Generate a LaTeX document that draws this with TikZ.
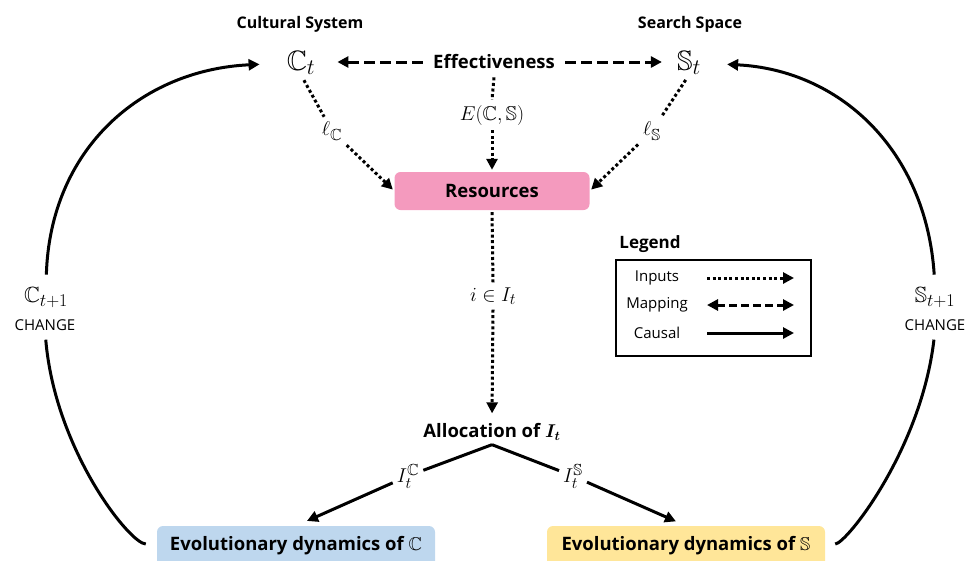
\RequirePackage{fix-cm}
\documentclass[tikz,border=0pt]{standalone}
\usepackage{amsmath,amssymb}
\usepackage{fontspec}
\setmainfont{Open Sans}
\usetikzlibrary{arrows.meta}
\DeclareMathSizes{20}{20}{16}{12}
\DeclareMathSizes{28}{28}{22}{16}
\DeclareMathSizes{22}{22}{18}{14}
\definecolor{respink}{RGB}{244,154,190}
\definecolor{evoblue}{RGB}{190,215,238}
\definecolor{evoyellow}{RGB}{255,230,153}
\begin{document}
\begin{tikzpicture}[x=1pt,y=-1pt,
  every node/.style={inner sep=0pt},
  boldlbl/.style={font=\fontsize{18.5}{22}\selectfont\bfseries},
  heading/.style={font=\fontsize{16}{19}\selectfont\bfseries},
  mlabel/.style={font=\fontsize{20}{24}\selectfont, inner sep=5pt},
  bigm/.style={font=\fontsize{28}{32}\selectfont},
  nextm/.style={font=\fontsize{22}{24}\selectfont},
  small/.style={font=\fontsize{15}{18}\selectfont},
  roundbox/.style={rounded corners=6pt, minimum height=38pt, font=\fontsize{18.5}{22}\selectfont\bfseries},
  evobox/.style={rounded corners=6pt, anchor=base, text height=14pt, text depth=18pt, inner ysep=10pt, font=\fontsize{18.5}{22}\selectfont\bfseries},
  tipend/.style={-{Triangle[length=11pt,width=11pt]}},
  inputs/.style={line width=3pt, dash pattern=on 3pt off 2.6pt, tipend},
  mapping/.style={line width=3pt, dash pattern=on 11pt off 5pt, tipend},
  causal/.style={line width=3pt, tipend},
  causalline/.style={line width=3pt}
]
\useasboundingbox (0,0) rectangle (965,560);

% headings
\node[heading] (cs) at (300,24) {Cultural System};
\node[heading] (ss) at (690,24) {Search Space};

% top row
\node[bigm] (Ct) at (301,63) {$\mathbb{C}_t$};
\node[bigm] (St) at (689,63) {$\mathbb{S}_t$};
\node[boldlbl, inner xsep=10pt, inner ysep=8pt] (eff) at (494,62) {Effectiveness};

% labels
\node[mlabel] (E) at (492,115) {$E(\mathbb{C},\mathbb{S})$};
\node[mlabel] (lc) at (332,131) {$\ell_{\mathbb{C}}$};
\node[mlabel] (ls) at (652,131) {$\ell_{\mathbb{S}}$};
\node[roundbox, fill=respink, minimum width=195pt] (res) at (492,191) {Resources};
\node[mlabel] (i) at (493,296) {$i\in I_t$};
\node[boldlbl, inner xsep=4pt, inner ysep=4pt] (alloc) at (492,432) {Allocation of {\boldmath$I_t$}};
\node[mlabel, inner sep=4pt] (Ic) at (408,476) {$I_t^{\mathbb{C}}$};
\node[mlabel, inner sep=4pt] (Is) at (573,476) {$I_t^{\mathbb{S}}$};

% bottom boxes
\node[evobox, fill=evoblue, minimum width=278pt] (evoC) at (296,550) {Evolutionary dynamics of $\mathbb{C}$};
\node[evobox, fill=evoyellow, minimum width=278pt] (evoS) at (686,550) {Evolutionary dynamics of $\mathbb{S}$};

% side labels
\node[nextm] (cnext) at (46,297) {$\mathbb{C}_{t+1}$};
\node[small] (cchg) at (45,325) {CHANGE};
\node[nextm] (snext) at (935,297) {$\mathbb{S}_{t+1}$};
\node[small] (schg) at (935,325) {CHANGE};

% mapping arrows
\draw[mapping, shorten >=22pt] (eff.west) -- (Ct.east |- eff.west);
\draw[mapping, shorten >=15pt] (eff.east) -- (St.west |- eff.east);

% inputs
\draw[line width=3pt, dash pattern=on 3pt off 2.6pt] (eff.south) -- (E.north);
\draw[inputs, shorten >=2pt] (E.south) -- (res.north);
\draw[line width=3pt, dash pattern=on 3pt off 2.6pt, shorten <=6pt] (Ct.south) -- (lc);
\draw[inputs, shorten >=2pt] (lc) -- (res.west);
\draw[line width=3pt, dash pattern=on 3pt off 2.6pt, shorten <=6pt] (St.south) -- (ls);
\draw[inputs, shorten >=2pt] (ls) -- (res.east);
\draw[line width=3pt, dash pattern=on 3pt off 2.6pt, shorten <=2pt] (res.south) -- (i.north);
\draw[inputs, shorten >=6pt] (i.south) -- (alloc.north);

% allocation fork
\draw[causalline] (alloc.south) -- (Ic);
\draw[causal, shorten >=12pt] (Ic) -- (evoC.north);
\draw[causalline] (alloc.south) -- (Is);
\draw[causal, shorten >=11pt] (Is) -- (evoS.north);

% change loops
\draw[causalline, shorten <=11pt, shorten >=9pt] (evoC.west |- 0,544) .. controls (130,544) and (55,450) .. (cchg.south);
\draw[causal, shorten <=12pt, shorten >=27pt] (cnext.north) .. controls (50,150) and (140,70) .. (Ct.west);
\draw[causalline, shorten <=10pt, shorten >=9pt] (evoS.east |- 0,544) .. controls (846,544) and (921,450) .. (schg.south);
\draw[causal, shorten <=12pt, shorten >=26pt] (snext.north) .. controls (926,150) and (840,70) .. (St.east);

% legend
\node[font=\fontsize{17}{20}\selectfont\bfseries] (legt) at (650,244) {Legend};
\node[draw, line width=1.5pt, minimum width=195pt, minimum height=96pt] (legbox) at (713.5,308) {};
\node[small] (lin) at (657,278) {Inputs};
\node[small] (lmap) at (657,305) {Mapping};
\node[small] (lcau) at (657,333) {Causal};
\coordinate (la1) at (707,278); \coordinate (lb1) at (794,278);
\coordinate (la2) at (707,305); \coordinate (lb2) at (794,305);
\coordinate (la3) at (707,333); \coordinate (lb3) at (794,333);
\draw[inputs] (la1) -- (lb1);
\draw[line width=3pt, dash pattern=on 8pt off 4pt, {Triangle[length=11pt,width=11pt]}-{Triangle[length=11pt,width=11pt]}] (la2) -- (lb2);
\draw[causal] (la3) -- (lb3);
\end{tikzpicture}
\end{document}
